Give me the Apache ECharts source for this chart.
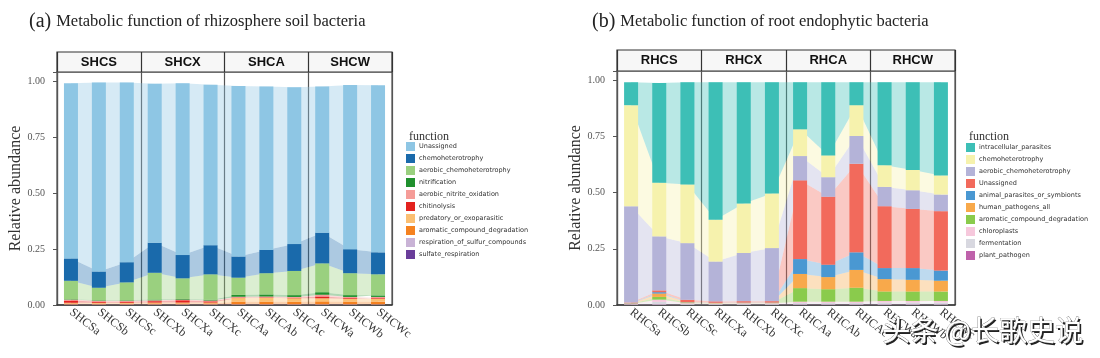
<!DOCTYPE html>
<html><head><meta charset="utf-8">
<script src="https://cdn.jsdelivr.net/npm/echarts@6/dist/echarts.min.js"></script>
<style>html,body{margin:0;padding:0;background:#fff}#c{width:1100px;height:358px}</style>
</head><body><div id="c"></div>
<script>
// ---------- categories ----------
const catA = ['SHCSa','SHCSb','SHCSc','SHCXb','SHCXa','SHCXc','SHCAa','SHCAb','SHCAc','SHCWa','SHCWb','SHCWc'];
const facetA = ['SHCS','SHCX','SHCA','SHCW'];
const catB = ['RHCSa','RHCSb','RHCSc','RHCXa','RHCXb','RHCXc','RHCAa','RHCAb','RHCAc','RHCWa','RHCWb','RHCWc'];
const facetB = ['RHCS','RHCX','RHCA','RHCW'];
const yTicks = ['0.00','0.25','0.50','0.75','1.00'];

// ---------- panel (a) functions, legend order (top of stack first) ----------
const funcA = ['Unassigned','chemoheterotrophy','aerobic_chemoheterotrophy','nitrification','aerobic_nitrite_oxidation','chitinolysis','predatory_or_exoparasitic','aromatic_compound_degradation','respiration_of_sulfur_compounds','sulfate_respiration'];
const a_unassigned   = [0.782,0.844,0.802,0.709,0.767,0.716,0.762,0.729,0.700,0.652,0.733,0.746];
const a_chemohet     = [0.100,0.072,0.090,0.134,0.104,0.130,0.094,0.104,0.120,0.137,0.107,0.098];
const a_aerobicChemo = [0.082,0.056,0.080,0.120,0.092,0.114,0.077,0.095,0.108,0.129,0.098,0.094];
const a_nitrification= [0.002,0.002,0.002,0.003,0.003,0.003,0.008,0.009,0.008,0.011,0.008,0.007];
const a_nitrite      = [0.004,0.004,0.004,0.004,0.003,0.004,0.004,0.004,0.004,0.008,0.005,0.005];
const a_chitin       = [0.010,0.005,0.005,0.006,0.010,0.005,0.002,0.002,0.002,0.008,0.003,0.003];
const a_predatory    = [0.003,0.004,0.004,0.004,0.004,0.004,0.016,0.017,0.016,0.014,0.013,0.013];
const a_aromatic     = [0.004,0.003,0.003,0.004,0.004,0.004,0.012,0.012,0.011,0.013,0.012,0.012];
const a_respSulfur   = [0.002,0.002,0.002,0.002,0.002,0.002,0.002,0.002,0.002,0.002,0.002,0.002];
const a_sulfate      = [0.001,0.001,0.001,0.001,0.001,0.001,0.001,0.001,0.001,0.001,0.001,0.001];
const valsA = [a_unassigned,a_chemohet,a_aerobicChemo,a_nitrification,a_nitrite,a_chitin,a_predatory,a_aromatic,a_respSulfur,a_sulfate];
const colA = ['#8ec6e4','#1a6aab','#9ad07f','#20902e','#f59c98','#e3221f','#fbbf72','#f58220','#c9b3d6','#6a3d9a'];

// ---------- panel (b) functions ----------
const funcB = ['intracellular_parasites','chemoheterotrophy','aerobic_chemoheterotrophy','Unassigned','animal_parasites_or_symbionts','human_pathogens_all','aromatic_compound_degradation','chloroplasts','fermentation','plant_pathogen'];
const b_intracellular = [0.102,0.444,0.454,0.611,0.539,0.494,0.209,0.325,0.102,0.369,0.390,0.414];
const b_chemohet      = [0.449,0.238,0.261,0.186,0.220,0.243,0.119,0.097,0.137,0.096,0.090,0.085];
const b_aerobicChemo  = [0.428,0.240,0.252,0.177,0.214,0.236,0.108,0.087,0.123,0.086,0.083,0.074];
const b_unassigned    = [0.003,0.008,0.010,0.006,0.006,0.006,0.350,0.302,0.394,0.275,0.263,0.264];
const b_animal        = [0.001,0.006,0.001,0.001,0.001,0.001,0.066,0.055,0.078,0.049,0.052,0.045];
const b_human         = [0.001,0.015,0.002,0.001,0.001,0.001,0.063,0.054,0.079,0.055,0.052,0.048];
const b_aromatic      = [0.001,0.012,0.002,0.001,0.001,0.001,0.060,0.055,0.062,0.042,0.042,0.042];
const b_chloroplasts  = [0.002,0.010,0.004,0.003,0.004,0.004,0.006,0.006,0.006,0.007,0.007,0.007];
const b_fermentation  = [0.002,0.012,0.003,0.003,0.003,0.003,0.007,0.007,0.007,0.009,0.009,0.009];
const b_plant         = [0.001,0.002,0.001,0.001,0.001,0.001,0.002,0.002,0.002,0.002,0.002,0.002];
const valsB = [b_intracellular,b_chemohet,b_aerobicChemo,b_unassigned,b_animal,b_human,b_aromatic,b_chloroplasts,b_fermentation,b_plant];
const colB = ['#3dbfb6','#f6f2ad','#b4b3d8','#f26a5c','#4a98d2','#f8a94b','#8acb4c','#f6c8dc','#d8d8e0','#bf62ab'];

const watermark = '头条 @长歌史说';

function buildSeries(prefix, names, vals, cols, axisIdx) {
  const out = [];
  for (let i = names.length - 1; i >= 0; i--) {
    out.push({
      name: prefix + names[i], type: 'bar', stack: prefix + 'bar',
      xAxisIndex: axisIdx, yAxisIndex: axisIdx, barWidth: 14, z: 3,
      itemStyle: { color: cols[i] }, data: vals[i]
    });
    out.push({
      name: prefix + names[i] + '_flow', type: 'line', stack: prefix + 'flow',
      xAxisIndex: axisIdx, yAxisIndex: axisIdx, z: 2, silent: true,
      symbol: 'none', lineStyle: { width: 0 },
      areaStyle: { color: cols[i], opacity: 0.36 }, data: vals[i]
    });
  }
  return out;
}

const serif = 'Liberation Serif';
function yAxisDef(gi, gap) {
  return {
    type: 'value', gridIndex: gi, min: 0, max: 1.04, interval: 0.25,
    name: 'Relative abundance', nameLocation: 'middle', nameGap: gap,
    nameTextStyle: { fontFamily: serif, fontSize: 16, color: '#333' },
    axisLine: { show: true, lineStyle: { color: '#555', width: 1.2 } },
    axisTick: { show: true, length: 4, lineStyle: { color: '#555' } },
    splitLine: { show: false },
    axisLabel: { margin: 12, fontFamily: serif, fontSize: 10, color: '#555',
      formatter: v => { const k = Math.round(v * 4); return Math.abs(v * 4 - k) < 1e-6 ? yTicks[k] : ''; } }
  };
}
function xAxisDef(gi, cats) {
  return {
    type: 'category', gridIndex: gi, data: cats,
    axisLine: { lineStyle: { color: '#333', width: 1.5 } },
    axisTick: { show: false },
    splitLine: { show: true, interval: (i) => i % 3 === 0, lineStyle: { color: '#555', width: 1.2 } },
    axisLabel: { interval: 0, rotate: -38, margin: 6, fontFamily: serif, fontSize: 12, color: '#333' }
  };
}
function headerX(gi, facets) {
  return {
    type: 'category', gridIndex: gi, data: facets, position: 'top',
    axisLine: { show: false }, axisTick: { show: false },
    splitLine: { show: true, interval: 0, lineStyle: { color: '#333', width: 1.2 } },
    axisLabel: { inside: true, margin: 4, fontFamily: 'Liberation Sans', fontWeight: 'bold', fontSize: 13, color: '#111' }
  };
}
function legendDef(prefix, names, left, top) {
  return {
    orient: 'vertical', left: left, top: top, icon: 'rect',
    itemWidth: 9, itemHeight: 9, itemGap: 3, padding: 0,
    data: names.map(n => prefix + n),
    formatter: n => n.slice(prefix.length),
    textStyle: { fontSize: 6.5, color: '#333', fontFamily: 'DejaVu Sans', padding: [0, 0, 0, -1] }
  };
}
const titleRich = {
  p: { fontFamily: serif, fontSize: 20, color: '#222', fontWeight: 'normal' },
  t: { fontFamily: serif, fontSize: 16.5, color: '#222', fontWeight: 'normal' }
};

const option = {
  animation: false,
  backgroundColor: '#fff',
  title: [
    { left: 24, top: 7, text: '{p|(a)} {t|Metabolic function of rhizosphere soil bacteria}',
      textStyle: { fontWeight: 'normal', rich: titleRich } },
    { left: 587, top: 7, text: '{p|(b)} {t|Metabolic function of root endophytic bacteria}',
      textStyle: { fontWeight: 'normal', rich: titleRich } },
    { left: 404, top: 126, text: 'function', textStyle: { fontFamily: serif, fontSize: 12, fontWeight: 'normal', color: '#333' } },
    { left: 964, top: 126, text: 'function', textStyle: { fontFamily: serif, fontSize: 12, fontWeight: 'normal', color: '#333' } }
  ],
  legend: [ legendDef('a:', funcA, 406, 142), legendDef('b:', funcB, 966, 143) ],
  grid: [
    { left: 57, right: 708, top: 72, bottom: 53, show: true, borderColor: '#555', borderWidth: 1.2 },
    { left: 57, right: 708, top: 52, height: 20, show: true, borderColor: '#333', borderWidth: 1.2, backgroundColor: '#f7f7f7' },
    { left: 617, right: 145, top: 71, bottom: 53, show: true, borderColor: '#555', borderWidth: 1.2 },
    { left: 617, right: 145, top: 50, height: 21, show: true, borderColor: '#333', borderWidth: 1.2, backgroundColor: '#f7f7f7' }
  ],
  xAxis: [ xAxisDef(0, catA), headerX(1, facetA), xAxisDef(2, catB), headerX(3, facetB) ],
  yAxis: [
    yAxisDef(0, 31),
    { type: 'value', gridIndex: 1, show: false },
    yAxisDef(2, 33),
    { type: 'value', gridIndex: 3, show: false }
  ],
  series: [].concat(buildSeries('a:', funcA, valsA, colA, 0)).concat(buildSeries('b:', funcB, valsB, colB, 2)),
  graphic: [
    { type: 'text', left: 884, top: 318, z: 100,
      style: { text: watermark, fontSize: 28, fontFamily: 'Noto Sans CJK SC', fill: '#222' } },
    { type: 'text', left: 882, top: 316, z: 101,
      style: { text: watermark, fontSize: 28, fontFamily: 'Noto Sans CJK SC', fill: '#fff', stroke: '#666', lineWidth: 0.6 } }
  ]
};
const chart = echarts.init(document.getElementById('c'), null, { renderer: 'canvas' });
chart.setOption(option);
</script></body></html>
